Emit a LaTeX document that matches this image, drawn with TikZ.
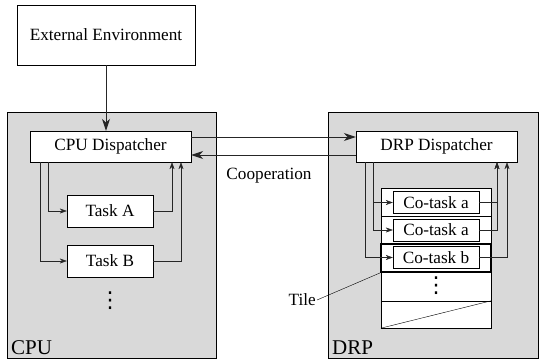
\documentclass[tikz,border=0pt]{standalone}
\usepackage{fontspec}
\setmainfont{Liberation Serif}
\newfontfamily\dotsfont{DejaVu Sans}
\usetikzlibrary{arrows.meta}
\tikzstyle{unit} = [rectangle, draw, fill=gray!30, inner sep=0pt]
\tikzstyle{box} = [rectangle, draw, fill=white, text centered, inner sep=0pt]
\tikzstyle{tile} = [rectangle, draw, fill=white, minimum width=110, minimum height=28, inner sep=0pt]
\tikzstyle{vdotsnode} = [inner sep=0pt, font=\dotsfont\fontsize{22}{24}\selectfont]
\tikzstyle{arrow} = [-{Stealth[length=7pt,width=5pt]}, black!85]
\tikzstyle{bigarrow} = [-{Stealth[length=12pt,width=8pt]}, black!85, line width=0.9pt]

\begin{document}
\begin{tikzpicture}[x=1pt, y=-1pt, font=\fontsize{17.2}{20}\selectfont]
            \useasboundingbox (0,0) rectangle (539,361);

            % processing units
            \node (cpu) [unit, minimum width=209, minimum height=246] at (111.5,235) {};
            \node (drp) [unit, minimum width=210, minimum height=246] at (433,235) {};
            \node [anchor=south west, inner sep=0pt, font=\fontsize{21}{24}\selectfont] at (11,355) {CPU};
            \node [anchor=south west, inner sep=0pt, font=\fontsize{21}{24}\selectfont] at (332,355) {DRP};

            \node (ext)     [box, minimum width=178, minimum height=60] at (106,35) {External Environment};
            \node (cpudisp) [box, minimum width=161, minimum height=31] at (110.5,146.5) {CPU Dispatcher};
            \node (drpdisp) [box, minimum width=161, minimum height=31] at (436.5,146.5) {DRP Dispatcher};

            \node (taskA) [box, minimum width=86, minimum height=32] at (110,211) {Task A};
            \node (taskB) [box, minimum width=86, minimum height=32] at (110,261) {Task B};
            \node (cpudots) [vdotsnode] at (110,301) {⋮};

            % tiles of the DRP
            \node (tile1) [tile] at (436,202) {};
            \node (tile2) [tile] at (436,230) {};
            \node (tile4) [tile, minimum height=29] at (436,286.5) {};
            \node (tile5) [tile, minimum height=27] at (436,314.5) {};
            \node (tile3) [tile, line width=1.8pt] at (436,258) {};
            \node (cotask1) [box, minimum width=86, minimum height=22] at (436,202.5) {Co-task a};
            \node (cotask2) [box, minimum width=86, minimum height=22] at (436,230) {Co-task a};
            \node (cotask3) [box, minimum width=86, minimum height=22] at (436,257.5) {Co-task b};
            \node (drpdots) [vdotsnode] at (436,286) {⋮};
            \draw (tile5.south west) -- (tile5.north east);

            \node (tilelabel) [anchor=east, inner sep=1pt] at (317,300) {Tile};
            \draw (tilelabel.east) -- (tile3.south west);

            \draw [bigarrow] (ext) -- (ext |- cpudisp.north);
            \draw [bigarrow] ([yshift=9.5]cpudisp.east) -- ([yshift=9.5]drpdisp.west);
            \draw [bigarrow] ([yshift=-8.5]drpdisp.west) -- ([yshift=-8.5]cpudisp.east);
            \node (coop) at (269,176) {Cooperation};

            \draw [arrow] ([xshift=-62.5]cpudisp.south) |- (taskA.west);
            \draw [arrow] ([xshift=-70.5]cpudisp.south) |- (taskB.west);
            \draw [arrow] (taskA.east) -| ([xshift=61.5]cpudisp.south);
            \draw [arrow] (taskB.east) -| ([xshift=70.5]cpudisp.south);

            \draw [arrow] ([xshift=-63.5]drpdisp.south) |- (cotask1.west);
            \draw [arrow] ([xshift=-63.5]drpdisp.south) |- (cotask2.west);
            \draw [arrow] ([xshift=-71.5]drpdisp.south) |- (cotask3.west);
            \draw [arrow] (cotask1.east) -| ([xshift=60.5]drpdisp.south);
            \draw [arrow] (cotask2.east) -| ([xshift=60.5]drpdisp.south);
            \draw [arrow] (cotask3.east) -| ([xshift=70.5]drpdisp.south);
        \end{tikzpicture}
\end{document}
